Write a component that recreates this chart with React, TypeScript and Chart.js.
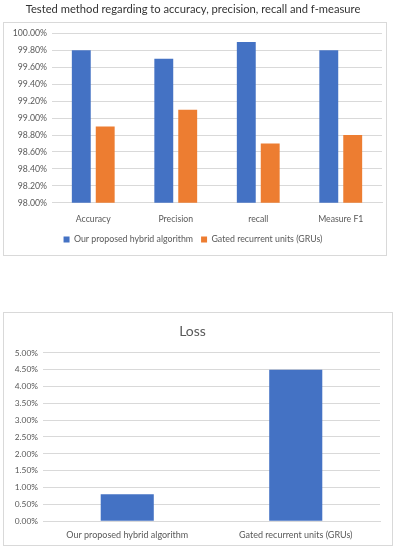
import React, { useEffect, useRef } from 'react';
import { Chart, registerables } from 'chart.js';
Chart.register(...registerables);

const metricCategories = ['Accuracy', 'Precision', 'recall', 'Measure F1'];
const hybridValues = [99.8, 99.7, 99.9, 99.8];
const gruValues = [98.9, 99.1, 98.7, 98.8];
const seriesNames = ['Our proposed hybrid algorithm', 'Gated recurrent units (GRUs)'];
const metricTicks = { min: 98, max: 100, step: 0.2 };

const lossCategories = ['Our proposed hybrid algorithm', 'Gated recurrent units (GRUs)'];
const lossValues = [0.8, 4.5];
const lossTicks = { min: 0, max: 5, step: 0.5 };

const BLUE = '#4472C4';
const ORANGE = '#ED7D31';
const GRID = '#d9d9d9';
const TEXT = '#595959';
const FONT = 'Lato, "Liberation Sans", sans-serif';

function MetricsChart() {
  const ref = useRef<HTMLCanvasElement>(null);
  useEffect(() => {
    const chart = new Chart(ref.current!, {
      type: 'bar',
      data: {
        labels: metricCategories,
        datasets: [
          { label: seriesNames[0], data: hybridValues, backgroundColor: BLUE, categoryPercentage: 0.58, barPercentage: 0.79 },
          { label: seriesNames[1], data: gruValues, backgroundColor: ORANGE, categoryPercentage: 0.58, barPercentage: 0.79 },
        ],
      },
      options: {
        responsive: false,
        animation: false,
        layout: { padding: { left: 4, right: 14, top: 0, bottom: 5 } },
        plugins: {
          title: {
            display: true,
            text: 'Tested method regarding to accuracy, precision, recall and f-measure',
            color: '#333333',
            font: { family: FONT, size: 11.2, weight: 'normal' },
            padding: { top: 3, bottom: 17 },
          },
          legend: {
            position: 'bottom',
            labels: { boxWidth: 6, boxHeight: 6, color: TEXT, font: { family: FONT, size: 8.8 }, padding: 8 },
          },
          tooltip: { enabled: false },
        },
        scales: {
          x: {
            grid: { display: false },
            border: { display: true, color: GRID },
            ticks: { color: TEXT, font: { family: FONT, size: 8.7 }, padding: 3 },
          },
          y: {
            min: metricTicks.min,
            max: metricTicks.max,
            afterFit: (s: any) => { s.width = 48; },
            grid: { color: GRID, drawTicks: false },
            border: { display: false },
            ticks: {
              stepSize: metricTicks.step,
              color: TEXT,
              font: { family: FONT, size: 8.7 },
              padding: 5,
              callback: (v: any) => Number(v).toFixed(2) + '%',
            },
          },
        },
      },
    });
    return () => chart.destroy();
  }, []);
  return <canvas ref={ref} width={396} height={259} style={{ position: 'absolute', left: 0, top: 0 }} />;
}

function LossChart() {
  const ref = useRef<HTMLCanvasElement>(null);
  useEffect(() => {
    const chart = new Chart(ref.current!, {
      type: 'bar',
      data: {
        labels: lossCategories,
        datasets: [
          { label: 'Loss', data: lossValues, backgroundColor: BLUE, categoryPercentage: 0.63, barPercentage: 0.5 },
        ],
      },
      options: {
        responsive: false,
        animation: false,
        layout: { padding: { left: 2, right: 12, top: 0, bottom: 5 } },
        plugins: {
          title: {
            display: true,
            text: 'Loss',
            color: TEXT,
            font: { family: FONT, size: 14, weight: 'normal' },
            padding: { top: 11, bottom: 13 },
          },
          legend: { display: false },
          tooltip: { enabled: false },
        },
        scales: {
          x: {
            grid: { display: false },
            border: { display: true, color: GRID },
            ticks: { color: TEXT, font: { family: FONT, size: 9 }, padding: 0 },
          },
          y: {
            min: lossTicks.min,
            max: lossTicks.max,
            afterFit: (s: any) => { s.width = 38; },
            grid: { color: GRID, drawTicks: false },
            border: { display: false },
            ticks: {
              stepSize: lossTicks.step,
              color: TEXT,
              font: { family: FONT, size: 8.4 },
              padding: 5,
              callback: (v: any) => Number(v).toFixed(2) + '%',
            },
          },
        },
      },
    });
    return () => chart.destroy();
  }, []);
  return <canvas ref={ref} width={389} height={233} style={{ position: 'absolute', left: 3, top: 312 }} />;
}

export default function App() {
  useEffect(() => {
    document.body.style.margin = '0';
  }, []);
  return (
    <div style={{ position: 'relative', width: 396, height: 550, background: '#fff', overflow: 'hidden' }}>
      <div style={{ position: 'absolute', left: 3, top: 22, width: 382, height: 232, border: '1px solid #d9d9d9' }} />
      <div style={{ position: 'absolute', left: 3, top: 312, width: 388, height: 232, border: '1px solid #d9d9d9' }} />
      <MetricsChart />
      <LossChart />
    </div>
  );
}
